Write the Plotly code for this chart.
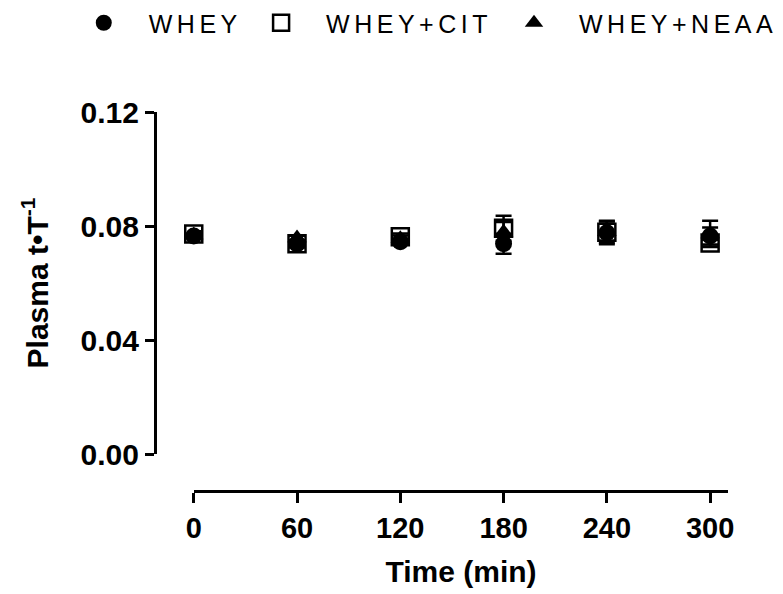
import plotly.graph_objects as go

# Sampling times (min)
time_min = [0, 60, 120, 180, 240, 300]

# Plasma tracer-to-tracee ratio, mean and SEM per condition
whey = [0.0765, 0.0737, 0.0745, 0.0738, 0.0776, 0.0765]
whey_sem = [0.0010, 0.0012, 0.0010, 0.0035, 0.0040, 0.0030]

whey_cit = [0.0772, 0.0738, 0.0762, 0.0792, 0.0778, 0.0740]
whey_cit_sem = [0.0010, 0.0010, 0.0012, 0.0044, 0.0030, 0.0012]

whey_neaa = [0.0768, 0.0758, 0.0755, 0.0778, 0.0780, 0.0772]
whey_neaa_sem = [0.0010, 0.0008, 0.0012, 0.0036, 0.0038, 0.0046]

x_ticks = [0, 60, 120, 180, 240, 300]
y_ticks = [0.00, 0.04, 0.08, 0.12]

W, H = 783, 594
BLACK = "#000000"
FAMILY = "Liberation Sans, Arial"
X_TICK_FONT = dict(family=FAMILY, size=29, color=BLACK, weight="bold")
Y_TICK_FONT = dict(family=FAMILY, size=30, color=BLACK, weight="bold")
TITLE_FONT = dict(family=FAMILY, size=30, color=BLACK, weight="bold")
LEGEND_FONT = dict(family=FAMILY, size=25, color=BLACK)


def err(values):
    return dict(type="data", array=values, visible=True, color=BLACK,
                thickness=2.5, width=8)


def spaced(label):
    return f'<span style="letter-spacing:4.5px">{label}</span>'


fig = go.Figure()

fig.add_trace(go.Scatter(
    x=time_min, y=whey_cit, error_y=err(whey_cit_sem), mode="markers",
    name=spaced("WHEY+CIT"), legend="legend2", cliponaxis=False,
    marker=dict(symbol="square-open", size=17, color=BLACK,
                line=dict(width=2.5, color=BLACK)),
))
fig.add_trace(go.Scatter(
    x=time_min, y=whey, error_y=err(whey_sem), mode="markers",
    name=spaced("WHEY"), legend="legend", cliponaxis=False,
    marker=dict(symbol="circle", size=17, color=BLACK),
))
fig.add_trace(go.Scatter(
    x=time_min, y=whey_neaa, error_y=err(whey_neaa_sem), mode="markers",
    name=spaced("WHEY+NEAA"), legend="legend3", cliponaxis=False,
    marker=dict(symbol="triangle-up", size=17, color=BLACK),
))


def legend_at(xpx):
    return dict(x=xpx / W, y=1.0, xanchor="left", yanchor="top",
                orientation="h", font=LEGEND_FONT, itemwidth=80,
                bgcolor="rgba(0,0,0,0)", borderwidth=0, visible=True)


fig.update_layout(
    width=W, height=H,
    margin=dict(l=0, r=0, t=0, b=0),
    paper_bgcolor="white", plot_bgcolor="white",
    showlegend=True,
    legend=legend_at(59),
    legend2=legend_at(237),
    legend3=legend_at(491),
    xaxis=dict(
        domain=[194.5 / W, 731 / W], range=[0, 310.5],
        anchor="free", position=(H - 491) / H, automargin=False,
        tickvals=x_ticks, ticktext=[str(t) for t in x_ticks],
        ticks="outside", ticklen=10, tickwidth=3, tickcolor=BLACK,
        showline=True, linewidth=3, linecolor=BLACK,
        showgrid=False, zeroline=False, tickfont=X_TICK_FONT,
        title=dict(text="Time (min)", font=TITLE_FONT, standoff=18),
    ),
    yaxis=dict(
        domain=[(H - 454) / H, (H - 112) / H], range=[0, 0.12],
        anchor="free", position=155.5 / W, automargin=False,
        tickvals=y_ticks, tickformat=".2f",
        ticks="outside", ticklen=9, tickwidth=3, tickcolor=BLACK,
        showline=True, linewidth=3, linecolor=BLACK,
        showgrid=False, zeroline=False, tickfont=Y_TICK_FONT,
        title=dict(text="Plasma t•T<sup>-1</sup>", font=TITLE_FONT, standoff=22),
    ),
)

fig.write_html("out.html")
